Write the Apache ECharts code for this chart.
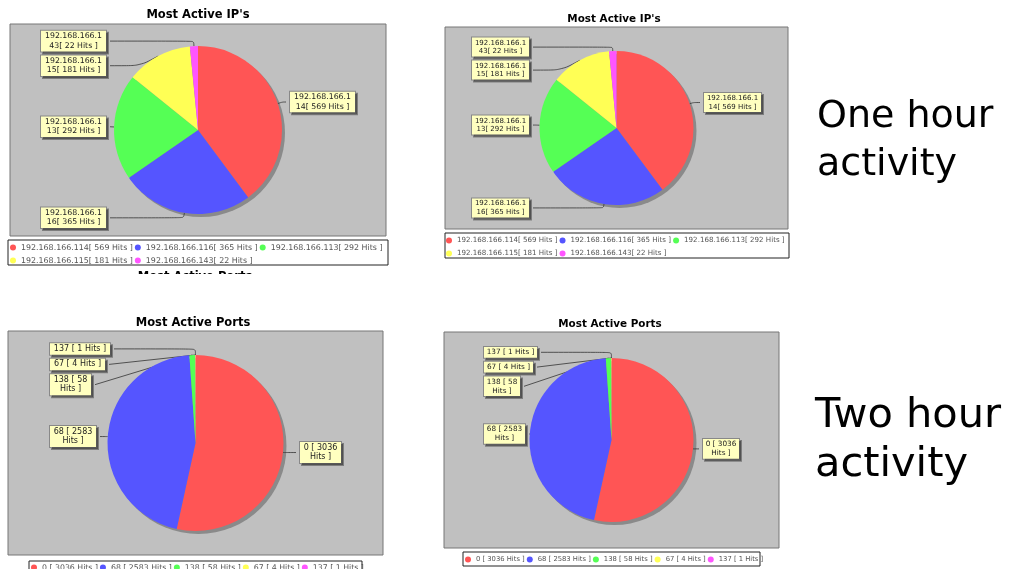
<!DOCTYPE html>
<html>
<head>
<meta charset="utf-8">
<script src="https://cdn.jsdelivr.net/npm/echarts@6/dist/echarts.min.js"></script>
<style>
  html, body { margin: 0; padding: 0; background: #fff; }
  #chart { width: 1013px; height: 569px; }
</style>
</head>
<body>
<div id="chart"></div>
<script>
// data
const ipNames = ["192.168.166.114", "192.168.166.116", "192.168.166.113", "192.168.166.115", "192.168.166.143"];
const ipHits = [569, 365, 292, 181, 22];
const portNames = ["0", "68", "138", "67", "137"];
const portHits = [3036, 2583, 58, 4, 1];
const sliceColors = ["#FF5555", "#5555FF", "#55FF55", "#FFFF55", "#FF55FF"];
const ipTitle = "Most Active IP's";
const portTitle = "Most Active Ports";
const sideTexts = ["One hour\nactivity", "Two hour\nactivity"];

const FONT = "DejaVu Sans";

const ipLegendText = (name) => name + "[ " + ipHits[ipNames.indexOf(name)] + " Hits ]";
const portLegendText = (name) => name + " [ " + portHits[portNames.indexOf(name)] + " Hits ]";

// slice label texts, wrapped the way the original tool wraps them
const ipLabelText = (name, value) => name.slice(0, 13) + "\n" + name.slice(13) + "[ " + value + " Hits ]";
const portLabelText = (name, value) =>
  value >= 10 ? name + " [ " + value + "\nHits ]" : name + " [ " + value + " Hits ]";
// centre every line inside the label box
const centred = (text) => text.split("\n").map((l) => "{c|" + l + "}").join("\n");

const measureCtx = document.createElement("canvas").getContext("2d");
const textWidth = (text, size) => {
  measureCtx.font = size + "px '" + FONT + "'";
  return Math.max(...text.split("\n").map((l) => measureCtx.measureText(l).width));
};

// layout of the four screenshots
const panels = [
  { kind: "ip", box: [10, 24, 376, 212], r: 84, title: [198, 9, 11.5], font: 7.8, pad: 3, edge: 31, len: 5, step: 7,
    legend: { left: 10, top: 242, width: 378, font: 7.9 }, legendBox: [8, 240, 380, 25] },
  { kind: "ip", box: [445, 27, 343, 202], r: 77, title: [614, 14, 10.4], font: 7, pad: 2, edge: 27, len: 4, step: 7,
    legend: { left: 446, top: 235, width: 343, font: 7.1 }, legendBox: [445, 233, 344, 25] },
  { kind: "port", box: [8, 331, 375, 224], r: 88, title: [193, 317, 11.5], font: 8, pad: 3, edge: 42, len: 0.5, step: 5.2,
    legend: { left: 31, top: 562, font: 7.8 }, legendBox: [29, 561, 333, 14] },
  { kind: "port", box: [444, 332, 335, 216], r: 82, title: [610, 319, 10.4], font: 7.3, pad: 2, edge: 40, len: 0.5, step: 4.8,
    legend: { left: 465, top: 554, font: 6.8 }, legendBox: [463, 552, 297, 14] },
];

const titles = [];
const legends = [];
const series = [];
const graphics = [];

panels.forEach((p) => {
  const isIp = p.kind === "ip";
  const names = isIp ? ipNames : portNames;
  const values = isIp ? ipHits : portHits;
  const labelText = isIp ? ipLabelText : portLabelText;
  const total = values.reduce((a, b) => a + b, 0);
  const firstSliver = values.findIndex((v) => v / total < 0.02);
  const [bx, by, bw, bh] = p.box;

  titles.push({
    text: isIp ? ipTitle : portTitle,
    left: p.title[0],
    top: p.title[1],
    textAlign: "center",
    padding: 0,
    textStyle: { fontFamily: FONT, fontSize: p.title[2], fontWeight: "bold", color: "#000" },
  });

  // grey plot area + pie shadow
  graphics.push({
    type: "rect",
    shape: { x: bx, y: by, width: bw, height: bh },
    style: { fill: "#C0C0C0", stroke: "#777", lineWidth: 1 },
    z: 0,
  });
  graphics.push({
    type: "circle",
    shape: { cx: bx + bw / 2 + 3, cy: by + bh / 2 + 3, r: p.r },
    style: { fill: "#8a8a8a" },
    z: 1,
  });
  // legend frame
  const [lx, ly, lw, lh] = p.legendBox;
  graphics.push({
    type: "rect",
    shape: { x: lx, y: ly, width: lw, height: lh },
    style: { fill: "#fff", stroke: "#222", lineWidth: 1 },
    z: 0,
  });

  legends.push({
    data: names,
    left: p.legend.left,
    top: p.legend.top,
    width: p.legend.width,
    padding: 0,
    orient: "horizontal",
    icon: "circle",
    itemWidth: 6,
    itemHeight: 6,
    itemGap: 2,
    selectedMode: false,
    formatter: isIp ? ipLegendText : portLegendText,
    textStyle: { fontFamily: FONT, fontSize: p.legend.font, color: "#555", lineHeight: 11 },
  });

  series.push({
    type: "pie",
    left: bx,
    top: by,
    width: bw,
    height: bh,
    center: ["50%", "50%"],
    radius: p.r,
    startAngle: 90,
    clockwise: true,
    silent: true,
    animation: false,
    data: names.map((n, k) => {
      const item = {
        name: n,
        value: values[k],
        itemStyle: { color: sliceColors[k] },
        label: { width: Math.ceil(textWidth(labelText(n, values[k]), p.font)) + 1 },
      };
      // thin slivers at the top: a bit longer leaders so their labels stack in slice order
      if (firstSliver >= 0 && k > firstSliver) {
        item.labelLine = { length: p.len + p.step + 0.2 * (k - firstSliver) };
      }
      return item;
    }),
    itemStyle: { borderWidth: 0 },
    label: {
      position: "outer",
      alignTo: "edge",
      edgeDistance: p.edge,
      distanceToLabelLine: 2,
      overflow: "none",
      formatter: (q) => centred(labelText(q.name, q.value)),
      fontFamily: FONT,
      fontSize: p.font,
      lineHeight: p.font + 1.5,
      color: "#222",
      backgroundColor: "#FFFFC0",
      borderColor: "#888",
      borderWidth: 1,
      padding: [1, p.pad],
      shadowColor: "rgba(0,0,0,0.35)",
      shadowOffsetX: 2,
      shadowOffsetY: 2,
      shadowBlur: 0,
      rich: {
        c: { align: "center", fontFamily: FONT, fontSize: p.font, lineHeight: p.font + 1.5, color: "#222" },
      },
    },
    labelLine: {
      length: p.len,
      smooth: 0.3,
      lineStyle: { color: "#333", width: 0.8 },
    },
  });
});

// title of the next screenshot, cut off under the first legend
titles.push({
  text: portTitle,
  left: 195,
  top: 271,
  textAlign: "center",
  padding: 0,
  textStyle: { fontFamily: FONT, fontSize: 11.5, fontWeight: "bold", color: "#000" },
});
graphics.push({
  type: "rect",
  shape: { x: 100, y: 274, width: 200, height: 20 },
  style: { fill: "#fff" },
  z: 100,
});

titles.push({
  text: sideTexts[0],
  left: 817,
  top: 93,
  padding: 0,
  textStyle: { fontFamily: FONT, fontSize: 38, fontWeight: "normal", color: "#000", lineHeight: 48 },
});
titles.push({
  text: sideTexts[1],
  left: 815,
  top: 392,
  padding: 0,
  textStyle: { fontFamily: FONT, fontSize: 41.5, fontWeight: "normal", color: "#000", lineHeight: 49 },
});

const chart = echarts.init(document.getElementById("chart"));
chart.setOption({
  backgroundColor: "#fff",
  animation: false,
  title: titles,
  legend: legends,
  graphic: graphics,
  series: series,
});
</script>
</body>
</html>
